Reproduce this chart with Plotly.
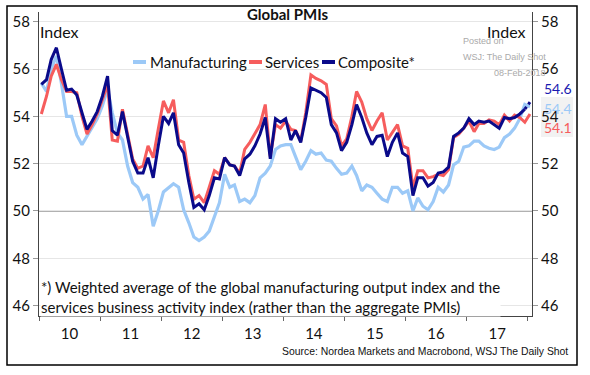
import pandas as pd
import plotly.graph_objects as go

# ---------------- data (monthly, Jan 2010 - Jan 2018) ----------------
months = pd.date_range("2010-01-01", "2018-01-01", freq="MS") + pd.Timedelta(days=14)

manufacturing = [
    55.4, 55.05, 56.0, 56.55, 55.4, 54.0, 54.0, 53.2, 52.8, 53.15, 53.5, 53.9,
    54.45, 55.15, 54.15, 53.3, 53.0, 51.9, 51.2, 51.0, 50.5, 50.7, 49.35, 50.0,
    50.8, 51.0, 51.15, 51.0, 50.05, 49.5, 48.9, 48.75, 48.9, 49.15, 49.8, 50.35,
    51.55, 51.0, 51.1, 50.4, 50.5, 50.35, 50.65, 51.4, 51.6, 51.9, 52.6, 52.75,
    52.8, 52.8, 52.3, 51.75, 52.1, 52.55, 52.4, 52.45, 52.15, 52.1, 51.8, 51.55,
    51.6, 51.9, 51.5, 50.85, 51.1, 51.0, 50.75, 50.5, 50.4, 51.0, 51.0, 50.75,
    50.85, 50.0, 50.55, 50.2, 50.05, 50.4, 51.0, 50.8, 51.1, 51.95, 52.1, 52.7,
    52.75, 52.95, 52.95, 52.75, 52.65, 52.6, 52.7, 53.1, 53.25, 53.5, 53.9, 54.5,
    54.4,
]
services = [
    54.1, 54.85, 55.7, 56.2, 55.55, 55.05, 55.05, 55.0, 54.0, 53.25, 53.65, 54.1,
    54.7, 55.35, 53.0, 52.95, 54.3, 53.15, 52.2, 51.8, 51.9, 52.75, 52.25, 53.45,
    54.65, 54.15, 54.7, 53.0, 52.9, 51.5, 50.5, 50.65, 50.35, 51.0, 51.7, 51.55,
    52.25, 51.95, 51.9, 51.6, 52.6, 52.9, 53.25, 53.65, 54.5, 52.3, 53.65, 53.5,
    53.8, 53.45, 53.4, 52.95, 54.15, 55.75, 55.6, 55.5, 55.35, 53.9, 53.6, 52.75,
    53.05, 54.0, 55.05, 54.6, 53.9, 53.4, 53.8, 54.15, 53.0, 53.3, 53.65, 52.75,
    52.65, 51.0, 51.7, 51.7, 51.4, 51.45, 51.55, 51.5, 51.75, 53.1, 53.25, 53.5,
    53.8, 53.35, 53.7, 53.7, 53.85, 53.8, 53.65, 54.05, 53.8, 54.05, 53.95, 53.75,
    54.1,
]
composite = [
    55.35, 55.55, 56.4, 56.9, 56.0, 55.1, 55.15, 54.9, 54.15, 53.45, 53.8, 54.2,
    54.85, 55.7, 53.4, 53.2, 54.2, 53.2, 52.1, 51.6, 51.6, 52.25, 51.4, 52.75,
    54.0, 53.7, 54.15, 52.8, 52.45, 51.2, 50.15, 50.3, 50.05, 50.65, 51.4, 51.35,
    52.25, 51.95, 51.9, 51.5, 52.2, 52.4, 52.75, 53.25, 53.95, 52.2, 53.9, 53.75,
    53.9, 53.0, 53.4, 52.9, 53.95, 55.2, 55.1, 55.0, 54.8, 53.65, 53.3, 52.55,
    52.9, 53.65, 54.5, 53.95, 53.3, 52.8, 53.15, 53.2, 52.3, 52.9, 53.3, 52.45,
    52.3, 50.65, 51.4, 51.4, 51.05, 51.2, 51.6, 51.65, 51.85, 53.15, 53.3, 53.5,
    53.9, 53.65, 53.8, 53.75, 53.8, 53.65, 53.5, 53.95, 53.9, 53.95, 54.1, 54.3,
    54.6,
]
last_labels = ["54.6", "54.4", "54.1"]
year_ticks_start = "2010-01-01"

C_MAN = "#9CC9F7"
C_SER = "#F65D5D"
C_COM = "#0A0A8A"
FONT = "Lato"

# plot-area pixel geometry (for paper coordinates of decorations)
L, R, T, B = 39, 532, 12, 316
W, H = R - L, B - T
def px(x):
    return (x - L) / W
def py(y):
    return (B - y) / H

fig = go.Figure()
fig.add_trace(go.Scatter(x=months, y=manufacturing, mode="lines",
                         line=dict(color=C_MAN, width=3.2), name="Manufacturing"))
fig.add_trace(go.Scatter(x=months, y=services, mode="lines",
                         line=dict(color=C_SER, width=3), name="Services"))
fig.add_trace(go.Scatter(x=months[:-1], y=composite[:-1], mode="lines",
                         line=dict(color=C_COM, width=3), name="Composite*",
                         yaxis="y2"))
fig.add_trace(go.Scatter(x=months[-2:], y=composite[-2:], mode="lines",
                         line=dict(color=C_COM, width=3, dash="dot"),
                         showlegend=False, yaxis="y2"))

yr = [45.56, 58.41]
axis_font = dict(family=FONT, size=15, color="#111")
fig.update_layout(
    width=590, height=375,
    margin=dict(l=L, r=590 - R, t=T, b=375 - B, autoexpand=False),
    paper_bgcolor="white", plot_bgcolor="white",
    showlegend=False,
    xaxis=dict(type="date", range=["2010-01-01", "2018-01-27"],
               tick0=year_ticks_start, dtick="M12", tickformat="%y",
               ticklabelmode="period", ticks="outside", ticklen=4,
               tickcolor="#666", showline=True, linecolor="#444",
               linewidth=1, showgrid=False, tickfont=axis_font, zeroline=False,
               automargin=False),
    yaxis=dict(range=yr, tick0=46, dtick=2, ticks="outside", ticklen=5,
               tickcolor="#999", showline=True, linecolor="#444", linewidth=1,
               showgrid=True, gridcolor="#E6E6E6", gridwidth=1,
               tickfont=axis_font, zeroline=False, automargin=False),
    yaxis2=dict(range=yr, tick0=46, dtick=2, ticks="outside", ticklen=5,
                tickcolor="#999", showline=True, linecolor="#444", linewidth=1,
                showgrid=False, overlaying="y", side="right",
                tickfont=axis_font, zeroline=False, automargin=False),
)

shapes = [
    # 50 reference line
    dict(type="line", xref="paper", x0=0, x1=1, yref="y", y0=50, y1=50,
         line=dict(color="#555", width=1), layer="below"),
    # outer frame
    dict(type="rect", xref="paper", yref="paper", x0=px(7), x1=px(577),
         y0=py(365), y1=py(6), line=dict(color="black", width=1.5)),
    # light box behind end labels
    dict(type="rect", xref="paper", yref="paper", x0=px(541), x1=px(573),
         y0=py(137), y1=py(97), line=dict(width=0), fillcolor="#F2F2F2",
         layer="below"),
]
# legend samples
for x0, c in [(133, C_MAN), (249, C_SER), (322, C_COM)]:
    shapes.append(dict(type="line", xref="paper", yref="paper",
                       x0=px(x0), x1=px(x0 + 13), y0=py(62), y1=py(62),
                       line=dict(color=c, width=4)))
fig.update_layout(shapes=shapes)

ann = []
def text(x, y, s, size=15, color="#111", xanchor="left", bold=False, fam=FONT,
         bg=None):
    d = dict(x=px(x), y=py(y), xref="paper", yref="paper", text=s,
             showarrow=False, xanchor=xanchor, yanchor="middle",
             font=dict(family=fam, size=size, color=color), align="left",
             borderpad=0)
    if bold:
        d["text"] = "<b>" + s + "</b>"
    if bg:
        d["bgcolor"] = bg
    ann.append(d)

text(287, 14, "Global PMIs", size=15, xanchor="center", bold=True)
text(39, 32, "Index", size=16)
text(527, 32, "Index", size=16, xanchor="right")
text(149, 62, "Manufacturing", size=15)
text(264, 62, "Services", size=15)
text(337, 62, "Composite*", size=15)
text(462, 41, "Posted on", size=9, color="#AAAAAA", fam="Liberation Sans")
text(462, 57, "WSJ: The Daily Shot", size=9, color="#AAAAAA", fam="Liberation Sans")
text(493, 73, "08-Feb-2018", size=9, color="#AAAAAA", fam="Liberation Sans")
text(543, 88, last_labels[0], size=14, color="#1A1AB0")
text(543, 108, last_labels[1], size=14, color=C_MAN)
text(543, 128, last_labels[2], size=14, color=C_SER)
ann.append(dict(x=px(40), y=py(297), xref="paper", yref="paper",
                text="*) Weighted average of the global manufacturing output index and the<br>"
                     "services business activity index (rather than the aggregate PMIs)",
                showarrow=False, xanchor="left", yanchor="middle", align="left",
                bgcolor="white", borderpad=0,
                font=dict(family=FONT, size=15, color="#111")))
text(569, 351, "Source: Nordea Markets and Macrobond, WSJ The Daily Shot",
     size=10.4, xanchor="right", fam="Liberation Sans")
fig.update_layout(annotations=ann)

fig.write_html("out.html", config={"displayModeBar": False},
               post_script="document.body.style.margin='0';document.body.style.padding='0';")
